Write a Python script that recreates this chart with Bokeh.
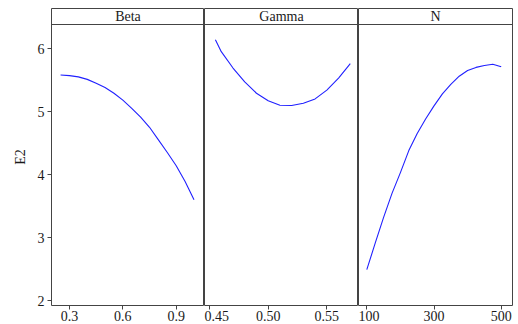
from bokeh.plotting import figure
from bokeh.layouts import row
from bokeh.models import Span, FixedTicker, CustomJSTickFormatter, Range1d
from bokeh.core.properties import value
from bokeh.embed import file_html
from bokeh.resources import INLINE

panel_titles = ["Beta", "Gamma", "N"]

beta_x = [0.25, 0.30, 0.35, 0.40, 0.45, 0.50, 0.55, 0.60, 0.65, 0.70, 0.75, 0.80, 0.85, 0.90, 0.95, 1.00]
beta_y = [5.58, 5.57, 5.55, 5.51, 5.45, 5.38, 5.29, 5.18, 5.05, 4.91, 4.75, 4.55, 4.35, 4.14, 3.89, 3.60]

gamma_x = [0.455, 0.46, 0.47, 0.48, 0.49, 0.50, 0.51, 0.52, 0.53, 0.54, 0.55, 0.56, 0.57]
gamma_y = [6.14, 5.95, 5.69, 5.47, 5.29, 5.17, 5.10, 5.095, 5.13, 5.20, 5.34, 5.53, 5.76]

n_x = [100, 125, 150, 175, 200, 225, 250, 275, 300, 325, 350, 375, 400, 425, 450, 475, 500]
n_y = [2.49, 2.91, 3.32, 3.70, 4.03, 4.38, 4.65, 4.88, 5.09, 5.28, 5.43, 5.56, 5.65, 5.70, 5.73, 5.75, 5.71]

y_ticks = [2, 3, 4, 5, 6]
beta_ticks = [0.3, 0.6, 0.9]
gamma_ticks = [0.45, 0.50, 0.55]
n_ticks = [100, 300, 500]

FONT = "Liberation Serif"
LINE_COL = "#444444"
CURVE_COL = "#2020ff"
TEXT_COL = "#1a1a1a"

Y0, Y1 = 1.921, 6.635
HEADER_BOTTOM = 6.381

def make_panel(title, xs, ys, xr, ticks, fmt, fw, first=False, last=False):
    p = figure(frame_width=fw, frame_height=297, output_backend="svg", toolbar_location=None,
               x_range=Range1d(*xr), y_range=Range1d(Y0, Y1),
               y_axis_location="left" if first else None,
               min_border_left=51 if first else 0, min_border_right=6 if last else 0,
               min_border_top=8, min_border_bottom=0)
    p.xgrid.visible = False
    p.ygrid.visible = False
    p.outline_line_color = LINE_COL
    p.outline_line_width = 1
    p.background_fill_color = "white"
    p.border_fill_color = "white"
    xa = p.xaxis[0]
    xa.ticker = FixedTicker(ticks=ticks)
    xa.formatter = CustomJSTickFormatter(code="return tick.toFixed(%d);" % fmt)
    xa.axis_line_color = None
    xa.major_tick_line_color = LINE_COL
    xa.major_tick_out = 4
    xa.major_tick_in = 0
    xa.minor_tick_line_color = None
    xa.major_label_text_font = FONT
    xa.major_label_text_font_size = "14px"
    xa.major_label_text_color = TEXT_COL
    xa.major_label_standoff = 1
    if first:
        ya = p.yaxis[0]
        ya.ticker = FixedTicker(ticks=y_ticks)
        ya.axis_line_color = None
        ya.major_tick_line_color = LINE_COL
        ya.major_tick_out = 4
        ya.major_tick_in = 0
        ya.minor_tick_line_color = None
        ya.major_label_text_font = FONT
        ya.major_label_text_font_size = "14px"
        ya.major_label_text_color = TEXT_COL
        ya.major_label_standoff = 3
        ya.axis_label = "E2"
        ya.axis_label_text_font = FONT
        ya.axis_label_text_font_style = "normal"
        ya.axis_label_text_font_size = "14px"
        ya.axis_label_text_color = TEXT_COL
        ya.axis_label_standoff = 7
    p.add_layout(Span(location=HEADER_BOTTOM, dimension="width", line_color=LINE_COL, line_width=1))
    p.text(x=[(xr[0] + xr[1]) / 2], y=[(HEADER_BOTTOM + Y1) / 2], text=[title],
           text_align="center", text_baseline="middle", text_font=value(FONT),
           text_font_size="14px", text_font_style="normal", text_color=TEXT_COL)
    p.line(xs, ys, line_color=CURVE_COL, line_width=1.1)
    return p

p1 = make_panel(panel_titles[0], beta_x, beta_y, (0.199, 1.059), beta_ticks, 1, 153, first=True)
p2 = make_panel(panel_titles[1], gamma_x, gamma_y, (0.4457, 0.577), gamma_ticks, 2, 154)
p3 = make_panel(panel_titles[2], n_x, n_y, (75.3, 533.6), n_ticks, 0, 154, last=True)

layout = row(p1, p2, p3)
open("out.html", "w").write(file_html(layout, INLINE))
